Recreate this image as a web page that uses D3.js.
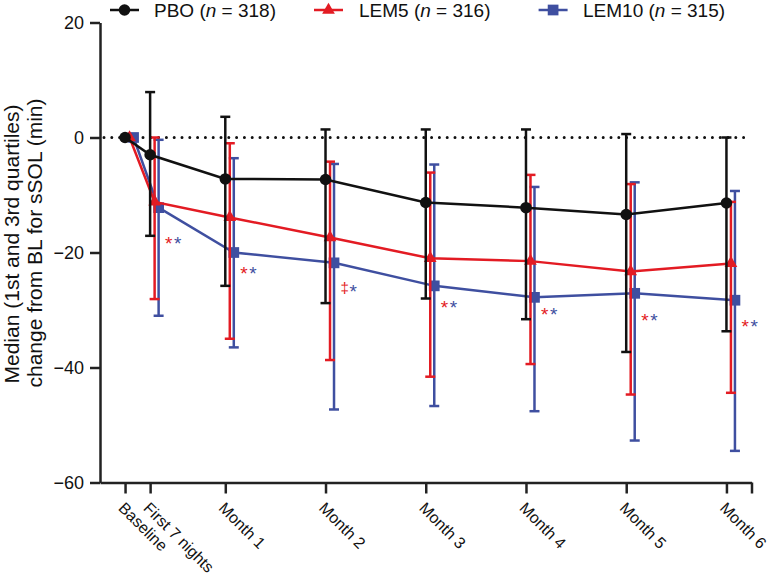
<!DOCTYPE html>
<html><head><meta charset="utf-8">
<script src="https://cdn.jsdelivr.net/npm/d3@7"></script>
<style>
body{margin:0;background:#fff}
svg{display:block}
text{font-family:Arial,"Liberation Sans",Helvetica,sans-serif;fill:#111}
</style>
</head><body>
<svg id="chart" width="772" height="582"></svg>
<script>
// ---- data ----
const categories = ["Baseline","First 7 nights","Month 1","Month 2","Month 3","Month 4","Month 5","Month 6"];
const timepoints = [0, 0.25, 1, 2, 3, 4, 5, 6]; // months
const yTicks = [20, 0, -20, -40, -60];

const pboMedian = [0, -3.0, -7.2, -7.3, -11.3, -12.2, -13.4, -11.4];
const pboQ3     = [null, 7.9, 3.6, 1.4, 1.4, 1.4, 0.6, 0.0];
const pboQ1     = [null, -17.1, -25.8, -28.8, -28.0, -31.6, -37.3, -33.7];

const lem5Median = [0, -11.2, -13.9, -17.4, -21.0, -21.5, -23.3, -21.9];
const lem5Q3     = [null, 0.0, -1.0, -4.2, -6.1, -6.5, -8.1, -11.2];
const lem5Q1     = [null, -28.1, -35.0, -38.7, -41.6, -39.4, -44.7, -44.4];

const lem10Median = [0, -12.2, -20.0, -21.8, -25.8, -27.8, -27.1, -28.3];
const lem10Q3     = [null, -0.4, -3.6, -4.6, -4.7, -8.6, -7.8, -9.3];
const lem10Q1     = [null, -31.0, -36.5, -47.3, -46.7, -47.6, -52.7, -54.5];

const seriesNames = ["PBO", "LEM5", "LEM10"];
const seriesN = [318, 316, 315];

// significance markers (from First 7 nights onward)
const sigTimepoints = [0.25, 1, 2, 3, 4, 5, 6];
const sigLem5 = ["*", "*", "\u2021", "*", "*", "*", "*"];
const sigLem10 = ["*", "*", "*", "*", "*", "*", "*"];
const sigY = [-17.8, -23.0, -26.1, -29.0, -30.1, -31.2, -32.2];

// ---- chart ----
const svg = d3.select("#chart");
const x = d3.scaleLinear().domain([-0.25, 6.25]).range([100, 751.5]);
const y = d3.scaleLinear().domain([-60, 20]).range([482.5, 22.5]);

const RED = "#e31b23", BLUE = "#3f4fa0", BLACK = "#111111";
const series = [
  {name: seriesNames[2], n: seriesN[2], med: lem10Median, hi: lem10Q3, lo: lem10Q1, color: BLUE, sym: d3.symbolSquare, size: 115, dx: 8.5},
  {name: seriesNames[1], n: seriesN[1], med: lem5Median, hi: lem5Q3, lo: lem5Q1, color: RED, sym: d3.symbolTriangle, size: 70, dx: 4.5},
  {name: seriesNames[0], n: seriesN[0], med: pboMedian, hi: pboQ3, lo: pboQ1, color: BLACK, sym: d3.symbolCircle, size: 104, dx: 0}
];

// zero dotted line
svg.append("line")
  .attr("x1", x(-0.25) + 4).attr("x2", x(6.25) - 4)
  .attr("y1", y(0)).attr("y2", y(0))
  .attr("stroke", BLACK).attr("stroke-width", 3)
  .attr("stroke-linecap", "round").attr("stroke-dasharray", "0,7.8");

// axes
const gx = svg.append("g").attr("transform", `translate(0,${y(-60)})`)
  .call(d3.axisBottom(x).tickValues([...timepoints, 6.25])
    .tickFormat((d, i) => categories[i] || "").tickSize(11).tickSizeOuter(0));
gx.select(".domain").attr("stroke", "#222").attr("stroke-width", 2.5);
gx.selectAll(".tick line").attr("stroke", "#222").attr("stroke-width", 2.5);
gx.selectAll(".tick text")
  .attr("x", 0).attr("y", 0).attr("dy", 0)
  .attr("text-anchor", "start")
  .attr("transform", "translate(-8,26.5) rotate(45)")
  .style("font-size", "16px").style("font-family", "Arial,'Liberation Sans',sans-serif").attr("fill", "#111");

const gy = svg.append("g").attr("transform", `translate(${x(-0.25)},0)`)
  .call(d3.axisLeft(y).tickValues(yTicks).tickSize(10).tickSizeOuter(0).tickPadding(6));
gy.select(".domain").attr("stroke", "#222").attr("stroke-width", 2.5);
gy.selectAll(".tick line").attr("stroke", "#222").attr("stroke-width", 2.5);
gy.selectAll(".tick text").style("font-size", "18px")
  .style("font-family", "Arial,'Liberation Sans',sans-serif").attr("fill", "#111");

// y title
svg.append("text").attr("transform", "translate(19,244) rotate(-90)")
  .attr("text-anchor", "middle").style("font-size", "21px")
  .text("Median (1st and 3rd quartiles)");
svg.append("text").attr("transform", "translate(42.3,243) rotate(-90)")
  .attr("text-anchor", "middle").style("font-size", "21px")
  .text("change from BL for sSOL (min)");

// series
series.forEach(s => {
  const g = svg.append("g");
  const pts = timepoints.map((t, i) => ({t, i, m: s.med[i], hi: s.hi[i], lo: s.lo[i]}));
  const px = d => x(d.t) + s.dx;
  const bars = pts.filter(d => d.hi !== null);
  g.selectAll(".eb").data(bars).join("line")
    .attr("x1", px).attr("x2", px).attr("y1", d => y(d.hi)).attr("y2", d => y(d.lo))
    .attr("stroke", s.color).attr("stroke-width", 2.5);
  ["hi", "lo"].forEach(k => {
    g.selectAll(".cap" + k).data(bars).join("line")
      .attr("x1", d => px(d) - 5).attr("x2", d => px(d) + 5)
      .attr("y1", d => y(d[k])).attr("y2", d => y(d[k]))
      .attr("stroke", s.color).attr("stroke-width", 2.5);
  });
  g.append("path").datum(pts)
    .attr("d", d3.line().x(px).y(d => y(d.m)))
    .attr("fill", "none").attr("stroke", s.color).attr("stroke-width", 2.5);
  g.selectAll(".mk").data(pts).join("path")
    .attr("transform", d => `translate(${px(d)},${y(d.m)})`)
    .attr("d", d3.symbol(s.sym, s.size)).attr("fill", s.color);
});

// significance marks
sigTimepoints.forEach((t, i) => {
  const bx = x(t) + 15, cy = y(sigY[i]);
  const r = sigLem5[i];
  svg.append("text").attr("x", bx).attr("y", r === "*" ? cy + 10 : cy + 5)
    .style("font-size", r === "*" ? "19px" : "15px").style("fill", RED).text(r);
  svg.append("text").attr("x", bx + 9).attr("y", cy + 10)
    .style("font-size", "19px").style("fill", BLUE).text(sigLem10[i]);
});

// legend
const legendPos = [{x0: 110, tx: 154}, {x0: 314, tx: 359}, {x0: 538.6, tx: 583}];
const legSeries = [series[2], series[1], series[0]];
legSeries.forEach((s, i) => {
  const p = legendPos[i], ly = 10;
  svg.append("line").attr("x1", p.x0).attr("x2", p.x0 + 29).attr("y1", ly).attr("y2", ly)
    .attr("stroke", s.color).attr("stroke-width", 2.5);
  svg.append("path").attr("transform", `translate(${p.x0 + 14.5},${ly})`)
    .attr("d", d3.symbol(s.sym, s.size)).attr("fill", s.color);
  const t = svg.append("text").attr("x", p.tx).attr("y", 16.8).style("font-size", "19px");
  t.append("tspan").text(s.name + " (");
  t.append("tspan").style("font-style", "italic").text("n");
  t.append("tspan").text(" = " + s.n + ")");
});
</script>
</body></html>
